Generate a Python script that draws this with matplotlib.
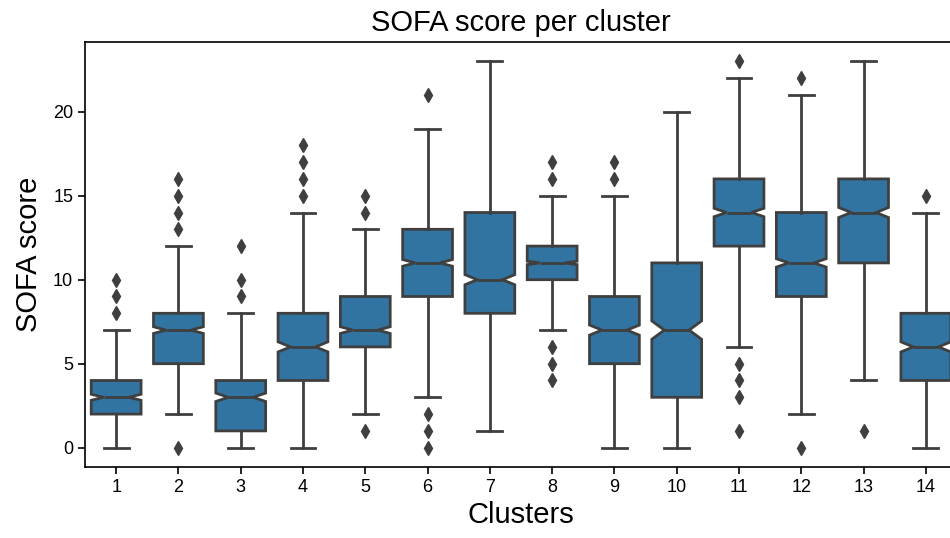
import matplotlib
matplotlib.use("Agg")
from matplotlib import pyplot as plt

plt.rcParams['font.family'] = ['Liberation Sans', 'DejaVu Sans']

# valores lidos por cluster (quartis, bigodes, entalhes e outliers)
clusters = [str(i) for i in range(1, 15)]
q1 = [2, 5, 1, 4, 6, 9, 8, 10, 5, 3, 12, 9, 11, 4]
medianas = [3, 7, 3, 6, 7, 11, 10, 11, 7, 7, 14, 11, 14, 6]
q3 = [4, 8, 4, 8, 9, 13, 14, 12, 9, 11, 16, 14, 16, 8]
bigode_min = [0, 2, 0, 0, 2, 3, 1, 7, 0, 0, 6, 2, 4, 0]
bigode_max = [7, 12, 8, 14, 13, 19, 23, 15, 15, 20, 22, 21, 23, 14]
entalhe_min = [2.82, 6.8, 2.75, 5.7, 6.8, 10.8, 9.7, 10.9, 6.7, 6.45, 13.75, 10.75, 13.7, 5.7]
entalhe_max = [3.18, 7.2, 3.25, 6.3, 7.2, 11.2, 10.3, 11.1, 7.3, 7.55, 14.25, 11.25, 14.3, 6.3]
outliers = [
    [8, 9, 10],
    [0, 13, 14, 15, 16],
    [9, 10, 12],
    [15, 16, 17, 18],
    [1, 14, 15],
    [0, 1, 2, 21],
    [],
    [4, 5, 6, 16, 17],
    [16, 17],
    [],
    [1, 3, 4, 5, 23],
    [0, 22],
    [1],
    [15],
]

# montando as estatisticas de cada caixa
estatisticas = []
for i in range(len(clusters)):
    estatisticas.append({
        'label': clusters[i],
        'q1': q1[i],
        'med': medianas[i],
        'q3': q3[i],
        'whislo': bigode_min[i],
        'whishi': bigode_max[i],
        'cilo': entalhe_min[i],
        'cihi': entalhe_max[i],
        'fliers': outliers[i],
    })

cinza = '#3f3f3f'
azul = '#3274a1'
lw = 2.0

fig = plt.figure(figsize=(9.5, 5.38), dpi=100)
# o eixo passa um pouco da borda direita da figura
ax = fig.add_axes([85 / 950, 71 / 538, 872 / 950, 425 / 538])

ax.bxp(estatisticas, positions=range(len(clusters)), widths=0.8, shownotches=True,
       patch_artist=True,
       boxprops=dict(facecolor=azul, edgecolor=cinza, linewidth=lw),
       medianprops=dict(color=cinza, linewidth=lw),
       whiskerprops=dict(color=cinza, linewidth=lw),
       capprops=dict(color=cinza, linewidth=lw),
       flierprops=dict(marker='d', markersize=7.5, markerfacecolor=cinza,
                       markeredgecolor=cinza, linestyle='none'))

ax.set_xlim(-0.5, len(clusters) - 0.5)
ax.set_ylim(-1.15, 24.15)
ax.set_yticks([0, 5, 10, 15, 20])
ax.set_xticks(range(len(clusters)))
ax.set_xticklabels(clusters)
ax.tick_params(labelsize=13, length=5, width=1.2)
for lado in ax.spines.values():
    lado.set_linewidth(1.2)

ax.set_title("SOFA score per cluster", fontsize=21, pad=8)
ax.set_xlabel("Clusters", fontsize=21, labelpad=4)
ax.set_ylabel("SOFA score", fontsize=21, labelpad=7)

fig.savefig('out.png', dpi=100)
